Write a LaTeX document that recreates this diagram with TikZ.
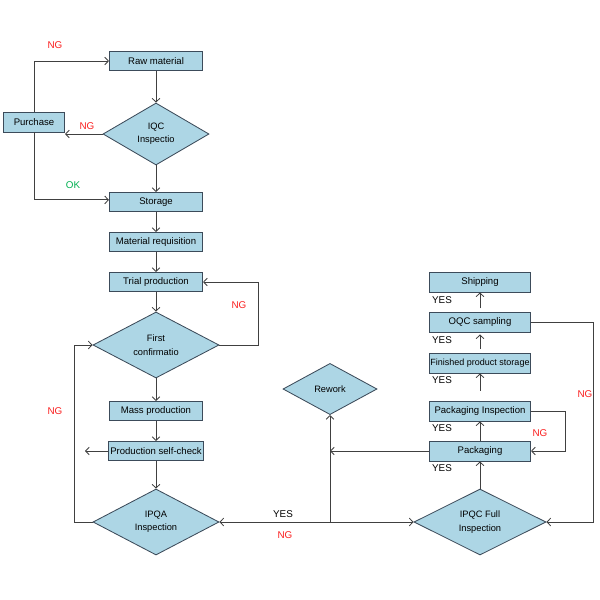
\documentclass[tikz,border=0pt]{standalone}
\usepackage{fontspec}
\setmainfont{Liberation Sans}
\usetikzlibrary{shapes.geometric,arrows.meta}
\definecolor{boxfill}{RGB}{173,214,229}
\definecolor{boxline}{RGB}{60,75,90}
\definecolor{ngred}{RGB}{250,30,30}
\definecolor{okgreen}{RGB}{0,176,80}
\tikzset{
  >={Straight Barb[length=2.6pt,width=5.5pt]},
  stepbox/.style={draw=boxline, fill=boxfill, line width=0.6pt, minimum width=2.33cm,
    minimum height=0.48cm, inner sep=1pt, font=\fontsize{6.8}{8}\selectfont},
  outbox/.style={stepbox, minimum width=2.53cm, minimum height=0.5cm},
  check/.style={diamond, draw=boxline, fill=boxfill, line width=0.6pt, inner sep=0pt,
    align=center, font=\fontsize{6.6}{9.5}\selectfont},
  flow/.style={draw=black!75, line width=0.6pt},
  ng/.style={text=ngred, font=\fontsize{7}{8}\selectfont},
  ok/.style={text=okgreen, font=\fontsize{7}{8}\selectfont},
  yes/.style={font=\fontsize{7}{8}\selectfont}
}
\begin{document}
\begin{tikzpicture}[x=0.025cm,y=-0.025cm]
  \useasboundingbox (0,0) rectangle (600,600);
  % left column
  \node[stepbox] (raw) at (156,61) {Raw material};
  \node[check, minimum width=2.65cm, minimum height=1.55cm] (iqc) at (156,134) {IQC\\Inspectio};
  \node[stepbox, minimum width=1.53cm, minimum height=0.5cm] (purchase) at (34,122) {Purchase};
  \node[stepbox] (storage) at (156,202) {Storage};
  \node[stepbox] (requisition) at (156,242) {Material requisition};
  \node[stepbox] (trial) at (156,282) {Trial production};
  \node[check, minimum width=3.15cm, minimum height=1.65cm] (firstconf) at (156,345) {First\\confirmatio};
  \node[stepbox] (mass) at (156,411) {Mass production};
  \node[stepbox] (selfcheck) at (156,451) {Production self-check};
  \node[check, minimum width=3.15cm, minimum height=1.65cm] (ipqa) at (156,522) {IPQA\\Inspection};
  % right column
  \node[check, minimum width=2.35cm, minimum height=1.28cm] (rework) at (330,389) {Rework};
  \node[check, minimum width=3.3cm, minimum height=1.65cm] (ipqc) at (480,522) {IPQC Full\\Inspection};
  \node[outbox] (packaging) at (480,451) {Packaging};
  \node[outbox] (packinsp) at (480,411) {Packaging Inspection};
  \node[outbox, font=\fontsize{6.4}{8}\selectfont, inner sep=0pt] (finished) at (480,363) {Finished product storage};
  \node[outbox] (oqc) at (480,322) {OQC sampling};
  \node[outbox] (shipping) at (480,282) {Shipping};
  \coordinate (selfout) at (85,451);
  \coordinate (split) at (330,522);

  \draw[flow,->] (raw) -- (iqc);
  \draw[flow,->] (iqc.west) -- (iqc.west -| purchase.east);
  \draw[flow,->] (purchase.north) |- (raw.west);
  \draw[flow,->] (purchase.south) |- ([yshift=1.5pt]storage.west);
  \draw[flow,->] (iqc) -- (storage);
  \draw[flow,->] (storage) -- (requisition);
  \draw[flow,->] (requisition) -- (trial);
  \draw[flow,->] (trial) -- (firstconf);
  \draw[flow,->] (firstconf.east) -- ++(39,0) |- (trial.east);
  \draw[flow,->] (firstconf) -- (mass);
  \draw[flow,->] (mass) -- (selfcheck);
  \draw[flow,->] (selfcheck.west) -- (selfout);
  \draw[flow,->] (selfcheck) -- (ipqa);
  \draw[flow,->] (ipqa.west) -- ++(-18,0) |- (firstconf.west);
  \draw[flow,<->] (ipqa.east) -- (ipqc.west);
  \draw[flow,->] (split) -- (rework.south);
  \draw[flow,->] (packaging.west) -- (rework.south |- packaging.west);
  \draw[flow,->] (ipqc) -- (packaging);
  \draw[flow,->] (packaging) -- (packinsp);
  \draw[flow,->,shorten <=0.25cm] (packinsp) -- (finished);
  \draw[flow,->,shorten <=0.1cm,shorten >=0.05cm] (finished) -- (oqc);
  \draw[flow,->,shorten <=0.08cm] (oqc) -- (shipping);
  \draw[flow,->] (packinsp.east) -- ++(34,0) |- (packaging.east);
  \draw[flow,->] (oqc.east) -- ++(62,0) |- (ipqc.east);

  % labels
  \node[ng] (ngraw) at (55,45) {NG};
  \node[ng] (ngiqc) at (87,126) {NG};
  \node[ok] (okiqc) at (73,185) {OK};
  \node[ng] (ngfirst) at (239,305) {NG};
  \node[ng] (ngipqa) at (55,411) {NG};
  \node[yes] (yesipqa) at (283,514) {YES};
  \node[ng] (ngipqc) at (285,535) {NG};
  \node[ng] (ngpack) at (540,433) {NG};
  \node[ng] (ngoqc) at (585,394) {NG};
  \foreach \y/\n in {300/a,340/b,380/c,428/d,468/e}
    \node[yes] (yes\n) at (442,\y) {YES};
\end{tikzpicture}
\end{document}
